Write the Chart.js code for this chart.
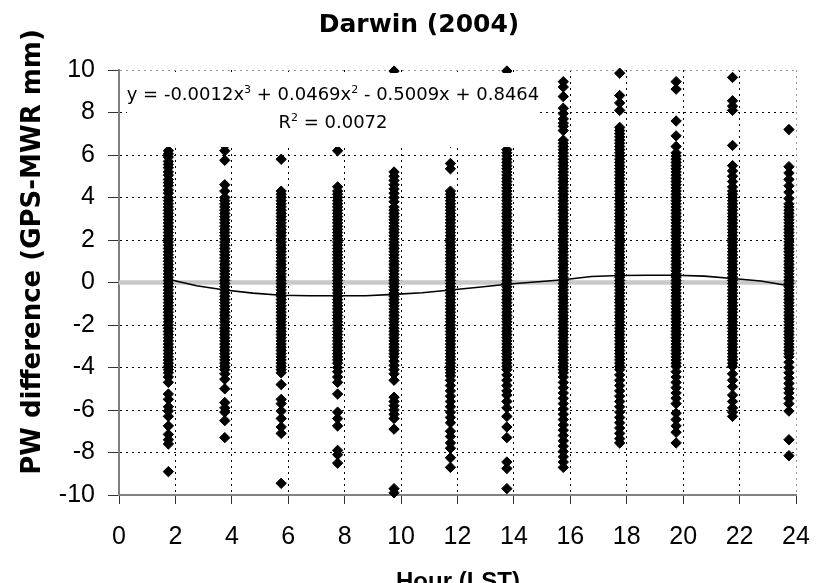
<!DOCTYPE html>
<html>
<head>
<title>Darwin (2004)</title>
<script src="https://cdn.jsdelivr.net/npm/chart.js"></script>
<style>
  body {
  margin: 0;
  padding: 0;
  background-color: #fff;
}
#wrap {
  position: relative;
  width: 818px;
  height: 583px;
}
</style>
</head>
<body>
<div id="wrap"><canvas id="chart"></canvas></div>

<script>
// hour (LST) of each observation column
const hours = [1.75, 3.75, 5.75, 7.75, 9.75, 11.75, 13.75, 15.75, 17.75, 19.75, 21.75, 23.75];

// PW difference GPS-MWR (mm), one list per hour
const diff02 = [6.2, 6.05, 5.9, 5.7, 5.55, 5.4, 5.2, 5.05, 4.85, 4.7, 4.55, 4.35, 4.2, 4.0, 3.85,
  3.7, 3.55, 3.4, 3.25, 3.1, 2.95, 2.8, 2.65, 2.5, 2.35, 2.2, 2.05, 1.9, 1.75, 1.6, 1.45, 1.3, 1.15, 1.0, 0.85, 0.7, 0.55, 0.4, 0.25, 0.1,
  -0.05, -0.2, -0.35, -0.5, -0.65, -0.8, -0.95, -1.1, -1.25, -1.4, -1.55, -1.7, -1.85, -2.0, -2.15, -2.3, -2.45, -2.6, -2.75, -2.9, -3.05, -3.2, -3.35, -3.5, -3.65, -3.8,
  -3.95, -4.1, -4.25, -4.45, -4.7, -5.25, -5.5, -5.85, -6.05, -6.3, -6.75, -7.15, -7.4, -7.6, -8.9];
const diff04 = [6.45, 6.2, 5.75, 4.6, 4.3, 4.0,
  3.85, 3.7, 3.55, 3.4, 3.25, 3.1, 2.95, 2.8, 2.65, 2.5, 2.35, 2.2, 2.05, 1.9, 1.75, 1.6, 1.45, 1.3, 1.15, 1.0, 0.85, 0.7, 0.55, 0.4, 0.25, 0.1,
  -0.05, -0.2, -0.35, -0.5, -0.65, -0.8, -0.95, -1.1, -1.25, -1.4, -1.55, -1.7, -1.85, -2.0, -2.15, -2.3, -2.45, -2.6, -2.75, -2.9, -3.05, -3.2, -3.35, -3.5, -3.65, -3.8, -3.95, -4.1,
  -4.3, -4.55, -5.0, -5.65, -5.9, -6.1, -6.5, -7.3];
const diff06 = [5.8, 4.3, 4.15, 4.0, 3.85,
  3.7, 3.55, 3.4, 3.25, 3.1, 2.95, 2.8, 2.65, 2.5, 2.35, 2.2, 2.05, 1.9, 1.75, 1.6, 1.45, 1.3, 1.15, 1.0, 0.85, 0.7, 0.55, 0.4, 0.25, 0.1,
  -0.05, -0.2, -0.35, -0.5, -0.65, -0.8, -0.95, -1.1, -1.25, -1.4, -1.55, -1.7, -1.85, -2.0, -2.15, -2.3, -2.45, -2.6, -2.75, -2.9, -3.05, -3.2, -3.35, -3.5, -3.65, -3.8, -3.95, -4.1, -4.25,
  -4.8, -5.5, -5.7, -6.05, -6.4, -6.8, -7.1, -9.45];
const diff08 = [6.2, 4.5, 4.3, 4.15, 4.0,
  3.85, 3.7, 3.55, 3.4, 3.25, 3.1, 2.95, 2.8, 2.65, 2.5, 2.35, 2.2, 2.05, 1.9, 1.75, 1.6, 1.45, 1.3, 1.15, 1.0, 0.85, 0.7, 0.55, 0.4, 0.25, 0.1,
  -0.05, -0.2, -0.35, -0.5, -0.65, -0.8, -0.95, -1.1, -1.25, -1.4, -1.55, -1.7, -1.85, -2.0, -2.15, -2.3, -2.45, -2.6, -2.75, -2.9, -3.05, -3.2, -3.35, -3.5, -3.65, -3.8,
  -4.0, -4.2, -4.45, -4.7, -5.25, -6.1, -6.4, -6.75, -7.9, -8.1, -8.5];
const diff10 = [9.95, 5.2, 5.0, 4.8, 4.6, 4.4, 4.2, 4.0, 3.8,
  3.55, 3.4, 3.25, 3.1, 2.95, 2.8, 2.65, 2.5, 2.35, 2.2, 2.05, 1.9, 1.75, 1.6, 1.45, 1.3, 1.15, 1.0, 0.85, 0.7, 0.55, 0.4, 0.25, 0.1,
  -0.05, -0.2, -0.35, -0.5, -0.65, -0.8, -0.95, -1.1, -1.25, -1.4, -1.55, -1.7, -1.85, -2.0, -2.15, -2.3, -2.45, -2.6, -2.75, -2.9, -3.05, -3.2, -3.35, -3.5,
  -3.7, -3.9, -4.1, -4.3, -4.6, -5.4, -5.6, -5.8, -6.0, -6.2, -6.4, -6.9, -9.7, -9.9];
const diff12 = [6.6, 5.6, 5.35, 4.3, 4.15, 4.0,
  3.85, 3.7, 3.55, 3.4, 3.25, 3.1, 2.95, 2.8, 2.65, 2.5, 2.35, 2.2, 2.05, 1.9, 1.75, 1.6, 1.45, 1.3, 1.15, 1.0, 0.85, 0.7, 0.55, 0.4, 0.25, 0.1,
  -0.05, -0.2, -0.35, -0.5, -0.65, -0.8, -0.95, -1.1, -1.25, -1.4, -1.55, -1.7, -1.85, -2.0, -2.15, -2.3, -2.45, -2.6, -2.75, -2.9, -3.05, -3.2, -3.35, -3.5, -3.65, -3.8, -3.95, -4.1, -4.25, -4.4,
  -4.6, -4.85, -5.1, -5.35, -5.6, -5.85, -6.1, -6.35, -6.6, -7.0, -7.25, -7.55, -7.8, -8.25, -8.7];
const diff14 = [9.95, 7.2, 6.5,
  6.25, 6.1, 5.95, 5.8, 5.65, 5.5, 5.35, 5.2, 5.05, 4.9, 4.75, 4.6, 4.45, 4.3, 4.15, 4.0,
  3.85, 3.7, 3.55, 3.4, 3.25, 3.1, 2.95, 2.8, 2.65, 2.5, 2.35, 2.2, 2.05, 1.9, 1.75, 1.6, 1.45, 1.3, 1.15, 1.0, 0.85, 0.7, 0.55, 0.4, 0.25, 0.1,
  -0.05, -0.2, -0.35, -0.5, -0.65, -0.8, -0.95, -1.1, -1.25, -1.4, -1.55, -1.7, -1.85, -2.0, -2.15, -2.3, -2.45, -2.6, -2.75, -2.9, -3.05, -3.2, -3.35, -3.5, -3.65, -3.8, -3.95, -4.1,
  -4.35, -4.6, -4.85, -5.1, -5.3, -5.6, -5.9, -6.3, -6.8, -7.3, -8.45, -8.75, -9.7];
const diff16 = [9.45, 9.2, 8.75, 8.2, 7.95, 7.7, 7.5, 7.35, 7.15,
  6.7, 6.55, 6.4, 6.25, 6.1, 5.95, 5.8, 5.65, 5.5, 5.35, 5.2, 5.05, 4.9, 4.75, 4.6, 4.45, 4.3, 4.15, 4.0,
  3.85, 3.7, 3.55, 3.4, 3.25, 3.1, 2.95, 2.8, 2.65, 2.5, 2.35, 2.2, 2.05, 1.9, 1.75, 1.6, 1.45, 1.3, 1.15, 1.0, 0.85, 0.7, 0.55, 0.4, 0.25, 0.1,
  -0.05, -0.2, -0.35, -0.5, -0.65, -0.8, -0.95, -1.1, -1.25, -1.4, -1.55, -1.7, -1.85, -2.0, -2.15, -2.3, -2.45, -2.6, -2.75, -2.9, -3.05, -3.2, -3.35, -3.5, -3.65, -3.8, -3.95, -4.1, -4.25,
  -4.45, -4.7, -4.95, -5.2, -5.45, -5.7, -5.95, -6.2, -6.45, -6.7, -6.95, -7.2, -7.45, -7.7, -7.95, -8.2, -8.45, -8.7];
const diff18 = [9.85, 8.8, 8.45, 8.1,
  7.3, 7.15, 7.0, 6.85, 6.7, 6.55, 6.4, 6.25, 6.1, 5.95, 5.8, 5.65, 5.5, 5.35, 5.2, 5.05, 4.9, 4.75, 4.6, 4.45, 4.3, 4.15, 4.0,
  3.85, 3.7, 3.55, 3.4, 3.25, 3.1, 2.95, 2.8, 2.65, 2.5, 2.35, 2.2, 2.05, 1.9, 1.75, 1.6, 1.45, 1.3, 1.15, 1.0, 0.85, 0.7, 0.55, 0.4, 0.25, 0.1,
  -0.05, -0.2, -0.35, -0.5, -0.65, -0.8, -0.95, -1.1, -1.25, -1.4, -1.55, -1.7, -1.85, -2.0, -2.15, -2.3, -2.45, -2.6, -2.75, -2.9, -3.05, -3.2, -3.35, -3.5, -3.65, -3.8, -3.95, -4.1,
  -4.35, -4.6, -4.85, -5.1, -5.35, -5.6, -5.85, -6.1, -6.35, -6.6, -6.85, -7.1, -7.35, -7.55];
const diff20 = [9.45, 9.1, 7.6, 6.9, 6.4,
  6.1, 5.95, 5.8, 5.65, 5.5, 5.35, 5.2, 5.05, 4.9, 4.75, 4.6, 4.45, 4.3, 4.15, 4.0,
  3.85, 3.7, 3.55, 3.4, 3.25, 3.1, 2.95, 2.8, 2.65, 2.5, 2.35, 2.2, 2.05, 1.9, 1.75, 1.6, 1.45, 1.3, 1.15, 1.0, 0.85, 0.7, 0.55, 0.4, 0.25, 0.1,
  -0.05, -0.2, -0.35, -0.5, -0.65, -0.8, -0.95, -1.1, -1.25, -1.4, -1.55, -1.7, -1.85, -2.0, -2.15, -2.3, -2.45, -2.6, -2.75, -2.9, -3.05, -3.2, -3.35, -3.5, -3.65, -3.8, -3.95,
  -4.2, -4.45, -4.7, -4.95, -5.2, -5.45, -5.7, -6.15, -6.45, -6.75, -7.05, -7.55];
const diff22 = [9.65, 8.55, 8.3, 8.1, 6.45, 5.5, 5.25, 5.0, 4.75, 4.5, 4.3,
  4.15, 4.0, 3.85, 3.7, 3.55, 3.4, 3.25, 3.1, 2.95, 2.8, 2.65, 2.5, 2.35, 2.2, 2.05, 1.9, 1.75, 1.6, 1.45, 1.3, 1.15, 1.0, 0.85, 0.7, 0.55, 0.4, 0.25, 0.1,
  -0.05, -0.2, -0.35, -0.5, -0.65, -0.8, -0.95, -1.1, -1.25, -1.4, -1.55, -1.7, -1.85, -2.0, -2.15, -2.3, -2.45, -2.6, -2.75, -2.9, -3.05, -3.2, -3.35, -3.5, -3.65, -3.8, -3.95,
  -4.3, -4.6, -4.9, -5.3, -5.6, -5.9, -6.1, -6.3];
const diff24 = [7.2, 5.45, 5.15, 4.85, 4.55, 4.25, 3.95, 3.7,
  3.55, 3.4, 3.25, 3.1, 2.95, 2.8, 2.65, 2.5, 2.35, 2.2, 2.05, 1.9, 1.75, 1.6, 1.45, 1.3, 1.15, 1.0, 0.85, 0.7, 0.55, 0.4, 0.25, 0.1,
  -0.05, -0.2, -0.35, -0.5, -0.65, -0.8, -0.95, -1.1, -1.25, -1.4, -1.55, -1.7, -1.85, -2.0, -2.15, -2.3, -2.45, -2.6, -2.75, -2.9, -3.05, -3.2, -3.35, -3.5,
  -3.75, -4.0, -4.25, -4.5, -4.75, -5.0, -5.2, -5.45, -5.7, -6.05, -7.4, -8.15];

// polynomial trend line, sampled every hour
const fitHours = [1.75, 2.75, 3.75, 4.75, 5.75, 6.75, 7.75, 8.75, 9.75, 10.75, 11.75, 12.75,
  13.75, 14.75, 15.75, 16.75, 17.75, 18.75, 19.75, 20.75, 21.75, 22.75, 23.75];
const fitValues = [0.15, -0.15, -0.35, -0.5, -0.6, -0.62, -0.62, -0.62, -0.56, -0.48, -0.35, -0.22,
  -0.08, 0.02, 0.13, 0.28, 0.33, 0.34, 0.34, 0.3, 0.19, 0.07, -0.15];

const fitEquation = [['y = -0.0012x', false], ['3', true], [' + 0.0469x', false], ['2', true], [' - 0.5009x + 0.8464', false]];
const fitR2 = [['R', false], ['2', true], [' = 0.0072', false]];

const columns = [diff02, diff04, diff06, diff08, diff10, diff12, diff14, diff16, diff18, diff20, diff22, diff24];
const scatterPoints = [];
columns.forEach((vals, i) => {
  vals.forEach(v => scatterPoints.push({ x: hours[i], y: v }));
});
const trendPoints = fitHours.map((h, i) => ({ x: h, y: fitValues[i] }));

const tickFamily = '"Liberation Sans", Arial, sans-serif';

// text pieces with superscripts, centred on cx
function drawRuns(ctx, runs, cx, y, size) {
  const supSize = Math.round(size * 0.62);
  const fontFor = sup => (sup ? supSize : size) + 'px "DejaVu Sans", sans-serif';
  let total = 0;
  runs.forEach(([t, sup]) => { ctx.font = fontFor(sup); total += ctx.measureText(t).width; });
  let x = cx - total / 2;
  runs.forEach(([t, sup]) => {
    ctx.font = fontFor(sup);
    ctx.fillText(t, x, sup ? y - size * 0.4 : y);
    x += ctx.measureText(t).width;
  });
}

const labels = {
  id: 'labels',
  afterDatasetsDraw(chart) {
    const ctx = chart.ctx;
    ctx.save();
    // equation box sits on top of the points
    ctx.fillStyle = '#fff';
    ctx.fillRect(127, 73, 413, 74);
    ctx.fillStyle = '#000';
    ctx.textAlign = 'left';
    ctx.textBaseline = 'alphabetic';
    drawRuns(ctx, fitEquation, 333, 100, 18);
    drawRuns(ctx, fitR2, 333, 128, 18);

    ctx.textAlign = 'center';
    ctx.font = 'bold 25px "DejaVu Sans", sans-serif';
    ctx.fillText('Darwin (2004)', 419, 32);

    ctx.font = 'bold 24px "Liberation Sans", Arial, sans-serif';
    ctx.fillText('Hour (LST)', 458, 589);

    ctx.translate(33, 252);
    ctx.rotate(-Math.PI / 2);
    ctx.textBaseline = 'middle';
    ctx.font = 'bold 26px "DejaVu Sans", sans-serif';
    ctx.fillText('PW difference (GPS-MWR mm)', 0, 0);
    ctx.restore();
  }
};

new Chart(document.getElementById('chart'), {
  type: 'scatter',
  data: {
    datasets: [{
      label: 'zero',
      data: [{ x: 0, y: 0 }, { x: 24, y: 0 }],
      showLine: true,
      borderColor: '#c8c8c8',
      borderWidth: 4.5,
      pointRadius: 0,
      order: 3
    }, {
      label: 'PW difference',
      data: scatterPoints,
      pointStyle: 'rectRot',
      pointRadius: 5.2,
      pointBackgroundColor: '#000',
      pointBorderColor: '#000',
      pointBorderWidth: 1,
      clip: false,
      order: 2
    }, {
      label: 'Poly. trend',
      data: trendPoints,
      showLine: true,
      borderColor: '#000',
      borderWidth: 1.6,
      pointRadius: 0,
      order: 1
    }]
  },
  options: {
    responsive: true,
    maintainAspectRatio: false,
    animation: false,
    layout: { padding: { top: 70, right: 22, left: 0, bottom: 0 } },
    plugins: { legend: { display: false }, tooltip: { enabled: false } },
    scales: {
      x: {
        type: 'linear',
        min: 0,
        max: 24,
        // tall line height pushes the hour labels down without widening the side padding
        ticks: { stepSize: 2, font: { family: tickFamily, size: 25, lineHeight: 2.64 }, color: '#000', padding: 0 },
        grid: {
          color: c => c.tick.value === 0 ? 'rgba(0,0,0,0)' : (c.tick.value === 24 ? '#999' : '#000'),
          tickColor: '#333',
          tickLength: 9,
          tickBorderDash: []
        },
        border: { color: '#808080', width: 2, dash: [2, 4] },
        afterFit: s => { s.height = 88; }
      },
      y: {
        min: -10,
        max: 10,
        ticks: { stepSize: 2, font: { family: tickFamily, size: 25 }, color: '#000', padding: 13 },
        grid: {
          color: c => c.tick.value === -10 ? 'rgba(0,0,0,0)' : (c.tick.value === 10 ? '#999' : '#000'),
          tickColor: '#333',
          tickLength: 11,
          tickBorderDash: []
        },
        border: { color: '#808080', width: 2, dash: [2, 4] },
        afterFit: s => { s.width = 119; }
      }
    }
  },
  plugins: [labels]
});
</script>
</body>
</html>
